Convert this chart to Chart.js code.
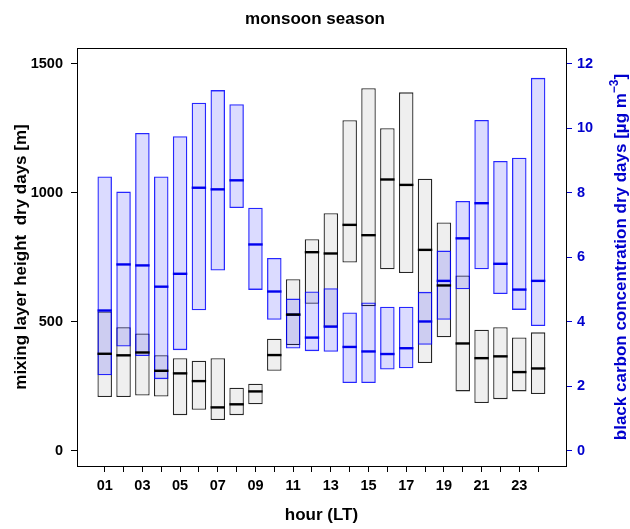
<!DOCTYPE html>
<html>
<head>
<meta charset="utf-8">
<script src="https://cdn.jsdelivr.net/npm/chart.js@4"></script>
<style>
html,body{margin:0;padding:0;background:#fff;}
#wrap{width:630px;height:529px;position:relative;}
</style>
</head>
<body>
<div id="wrap"><canvas id="c" width="630" height="529"></canvas></div>
<script>
// ---- data ----
const hours = [1,2,3,4,5,6,7,8,9,10,11,12,13,14,15,16,17,18,19,20,21,22,23,24];
const xTickLabels = ['01','03','05','07','09','11','13','15','17','19','21','23'];
const leftTicks = [0,500,1000,1500];
const rightTicks = [0,2,4,6,8,10,12];

// mixing layer height (m): box bottom, median, box top
const mlhLow  = [208,208,214,210,138,159,119,138,180,310,410,570,481,730,560,704,689,340,440,230,185,200,230,220];
const mlhMed  = [376,370,381,310,300,270,168,180,230,371,528,770,765,876,836,1052,1031,779,641,416,359,366,305,319];
const mlhHigh = [540,479,455,370,359,349,359,244,260,434,665,820,921,1282,1406,1251,1390,1055,885,680,469,479,439,459];

// black carbon concentration (ug m-3): box bottom, median, box top
const bcLow  = [2.34,3.23,2.94,2.22,3.12,4.36,5.59,7.53,4.99,4.06,3.17,3.09,3.07,2.10,2.10,2.52,2.56,3.29,4.06,5.01,5.63,4.86,4.37,3.87];
const bcMed  = [4.35,5.78,5.75,5.09,5.49,8.16,8.11,8.39,6.40,4.94,4.22,3.51,3.85,3.22,3.08,3.00,3.18,4.01,5.27,6.59,7.68,5.80,5.00,5.27];
const bcHigh = [8.51,8.04,9.86,8.51,9.76,10.80,11.19,10.75,7.54,5.98,4.72,4.94,5.04,4.29,4.60,4.47,4.47,4.93,6.21,7.75,10.26,8.99,9.09,11.57];

const BLUE = '#0000cd';
const FONT = "'Liberation Sans', Arial, Helvetica, sans-serif";

const framePlugin = {
  id: 'frame',
  afterDraw(chart) {
    const {ctx, chartArea: a} = chart;
    ctx.save();
    ctx.strokeStyle = '#000';
    ctx.lineWidth = 1;
    ctx.strokeRect(Math.round(a.left) + 0.5, Math.round(a.top) + 0.5, Math.round(a.right - a.left), Math.round(a.bottom - a.top));
    // right axis title, reading bottom to top, with superscript
    const cy = (a.top + a.bottom) / 2;
    const cx = 621.5;
    const main = 'black carbon concentration dry days [\u00b5g m';
    const sup = '\u22123';
    const tail = ']';
    ctx.translate(cx, cy);
    ctx.rotate(-Math.PI / 2);
    ctx.fillStyle = BLUE;
    ctx.textBaseline = 'middle';
    ctx.font = 'bold 17px ' + FONT;
    const w1 = ctx.measureText(main).width;
    const w3 = ctx.measureText(tail).width;
    ctx.font = 'bold 12px ' + FONT;
    const w2 = ctx.measureText(sup).width;
    const total = w1 + w2 + w3;
    let x = -total / 2;
    ctx.font = 'bold 17px ' + FONT;
    ctx.textAlign = 'left';
    ctx.fillText(main, x, 0);
    x += w1;
    ctx.font = 'bold 12px ' + FONT;
    ctx.fillText(sup, x, -7);
    x += w2;
    ctx.font = 'bold 17px ' + FONT;
    ctx.fillText(tail, x, 0);
    ctx.restore();
  }
};

const ctx = document.getElementById('c').getContext('2d');
new Chart(ctx, {
  type: 'bar',
  data: {
    datasets: [
      {
        type: 'bar',
        label: 'MLH',
        data: hours.map((h, i) => ({x: h, y: [mlhLow[i], mlhHigh[i]]})),
        yAxisID: 'y',
        backgroundColor: '#efefef',
        borderColor: 'rgba(0,0,0,0.85)',
        borderWidth: 1.3,
        borderSkipped: false,
        grouped: false,
        barPercentage: 0.77,
        categoryPercentage: 1,
        order: 4
      },
      {
        type: 'bar',
        label: 'BC',
        data: hours.map((h, i) => ({x: h, y: [bcLow[i], bcHigh[i]]})),
        yAxisID: 'y2',
        backgroundColor: 'rgba(0,0,255,0.14)',
        borderColor: 'rgba(0,0,255,0.85)',
        borderWidth: 1.3,
        borderSkipped: false,
        grouped: false,
        barPercentage: 0.77,
        categoryPercentage: 1,
        order: 3
      },
      {
        type: 'scatter',
        label: 'BC median',
        data: hours.map((h, i) => ({x: h, y: bcMed[i]})),
        yAxisID: 'y2',
        pointStyle: 'line',
        pointRadius: 7.2,
        pointHoverRadius: 7.2,
        borderColor: '#0000ee',
        pointBorderColor: '#0000ee',
        borderWidth: 2.4,
        pointBorderWidth: 2.4,
        order: 2
      },
      {
        type: 'scatter',
        label: 'MLH median',
        data: hours.map((h, i) => ({x: h, y: mlhMed[i]})),
        yAxisID: 'y',
        pointStyle: 'line',
        pointRadius: 7.2,
        pointHoverRadius: 7.2,
        borderColor: '#000',
        pointBorderColor: '#000',
        borderWidth: 2.4,
        pointBorderWidth: 2.4,
        order: 1
      }
    ]
  },
  options: {
    responsive: false,
    animation: false,
    devicePixelRatio: 1,
    layout: {padding: 0},
    plugins: {
      legend: {display: false},
      tooltip: {enabled: false},
      title: {
        display: true,
        text: 'monsoon season',
        color: '#000',
        font: {family: FONT, size: 17, weight: 'bold', lineHeight: 1.2},
        padding: {top: 9, bottom: 18.6}
      }
    },
    scales: {
      x: {
        type: 'linear',
        position: 'bottom',
        offset: false,
        min: -0.47,
        max: 25.48,
        afterBuildTicks: s => { s.ticks = hours.map(v => ({value: v})); },
        afterFit: s => { s.height = 63; },
        ticks: {
          autoSkip: false,
          maxRotation: 0,
          padding: 5,
          color: '#000',
          font: {family: FONT, size: 14.5, weight: 'bold'},
          callback: v => (v % 2 === 1 ? xTickLabels[(v - 1) / 2] : '')
        },
        grid: {display: true, offset: false, drawOnChartArea: false, drawTicks: true, tickLength: 6, tickColor: '#000', tickWidth: 1},
        border: {display: true, color: '#000'},
        title: {
          display: true,
          text: 'hour (LT)',
          color: '#000',
          font: {family: FONT, size: 17, weight: 'bold', lineHeight: 1.2},
          padding: {top: 0, bottom: 3}
        }
      },
      y: {
        type: 'linear',
        position: 'left',
        min: -59.3,
        max: 1562,
        afterBuildTicks: s => { s.ticks = leftTicks.map(v => ({value: v})); },
        afterFit: s => { s.width = 77; },
        ticks: {
          padding: 8,
          color: '#000',
          font: {family: FONT, size: 14.5, weight: 'bold'},
          callback: v => String(v)
        },
        grid: {display: true, drawOnChartArea: false, drawTicks: true, tickLength: 6, tickColor: '#000', tickWidth: 1},
        border: {display: true, color: '#000'},
        title: {
          display: true,
          text: 'mixing layer height  dry days [m]',
          color: '#000',
          font: {family: FONT, size: 17, weight: 'bold', lineHeight: 1.2},
          padding: {top: 11, bottom: 0}
        }
      },
      y2: {
        type: 'linear',
        position: 'right',
        min: -59.3 / 125,
        max: 1562 / 125,
        afterBuildTicks: s => { s.ticks = rightTicks.map(v => ({value: v})); },
        afterFit: s => { s.width = 64; },
        ticks: {
          padding: 5,
          color: BLUE,
          font: {family: FONT, size: 14.5, weight: 'bold'},
          callback: v => String(v)
        },
        grid: {display: true, drawOnChartArea: false, drawTicks: true, tickLength: 6, tickColor: BLUE, tickWidth: 1},
        border: {display: true, color: '#000033'},
        title: {display: false}
      }
    }
  },
  plugins: [framePlugin]
});
</script>
</body>
</html>
